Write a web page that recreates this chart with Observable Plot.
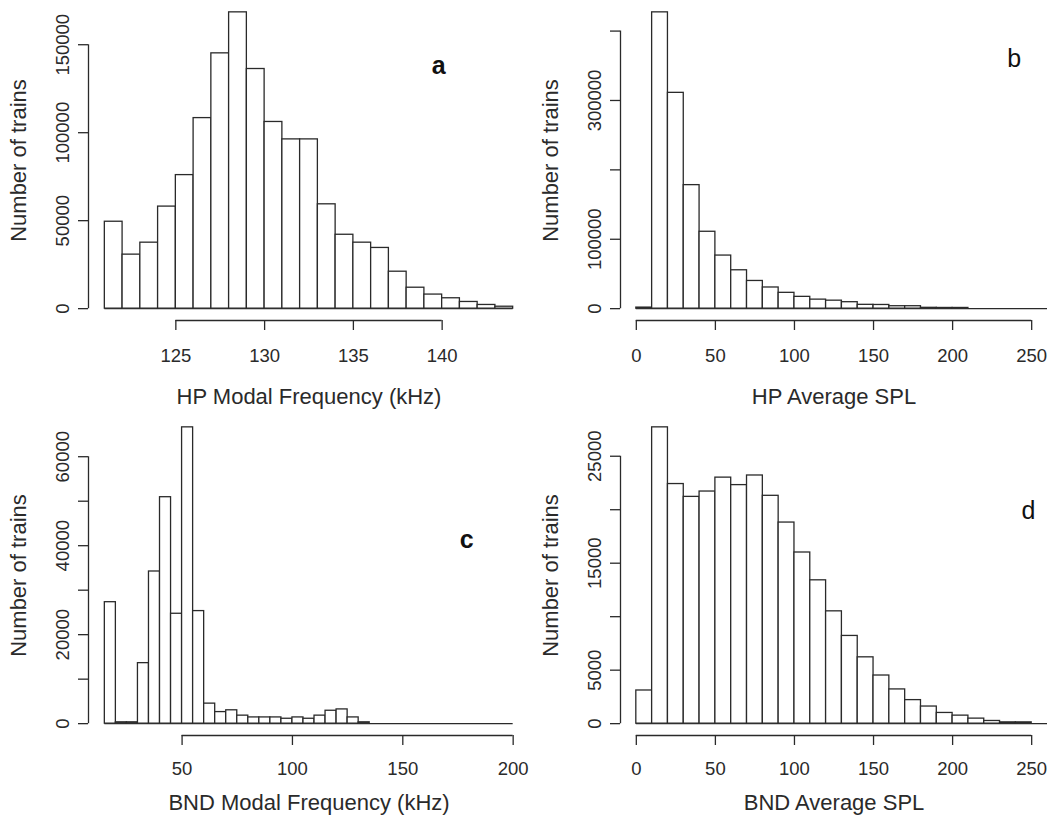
<!DOCTYPE html>
<html>
<head>
<meta charset="utf-8">
<script src="https://cdn.jsdelivr.net/npm/d3@7"></script>
<script src="https://cdn.jsdelivr.net/npm/@observablehq/plot@0.6"></script>
<style>
  html, body { margin: 0; padding: 0; background: #fff; }
  body { width: 1060px; height: 825px; position: relative; overflow: hidden;
         font-family: "Liberation Sans", Arial, sans-serif; }
  .panel { position: absolute; }
</style>
</head>
<body>
<div id="pa" class="panel" style="left:0px;top:0px"></div>
<div id="pb" class="panel" style="left:530px;top:0px"></div>
<div id="pc" class="panel" style="left:0px;top:413px"></div>
<div id="pd" class="panel" style="left:530px;top:413px"></div>
<script>
// ---------- data ----------
const yTitle = "Number of trains";
const panelLetters = ["a", "b", "c", "d"];
const xTitles = ["HP Modal Frequency (kHz)", "HP Average SPL", "BND Modal Frequency (kHz)", "BND Average SPL"];

// a: HP modal frequency, 1 kHz bins from 121 to 144
const hpFreqBreaks = d3.range(121, 145, 1);
const hpFreqCounts = [49400, 30700, 37500, 58000, 75900, 108300, 145100, 168400, 136200, 106100,
                      96200, 96200, 59300, 42000, 37500, 34500, 21000, 11900, 8000, 5900, 3800, 2100, 1100];
const hpFreqXTicks = [125, 130, 135, 140];
const hpFreqYTicks = [0, 50000, 100000, 150000];
const hpFreqYLabels = [0, 50000, 100000, 150000];

// b: HP average SPL, bins of 10 from 0 to 260
const hpSplBreaks = d3.range(0, 270, 10);
const hpSplCounts = [1500, 427000, 311000, 178000, 110800, 76500, 55300, 39900, 30500, 22800,
                     17000, 13000, 11500, 9300, 5500, 5300, 3500, 3500, 1200, 1000, 1000, 0, 0, 0, 0, 0];
const hpSplXTicks = [0, 50, 100, 150, 200, 250];
const hpSplYTicks = [0, 100000, 200000, 300000, 400000];
const hpSplYLabels = [0, 100000, 300000];

// c: BND modal frequency, 5 kHz bins from 15 to 200
const bndFreqBreaks = d3.range(15, 205, 5);
const bndFreqCounts = [27300, 300, 300, 13600, 34200, 50900, 24700, 66600, 25300, 4500,
                       2600, 3000, 1800, 1400, 1400, 1400, 1100, 1400, 1100, 1800,
                       2900, 3200, 1400, 300, 0, 0, 0, 0, 0, 0, 0, 0, 0, 0, 0, 0, 0];
const bndFreqXTicks = [50, 100, 150, 200];
const bndFreqYTicks = [0, 10000, 20000, 30000, 40000, 50000, 60000];
const bndFreqYLabels = [0, 20000, 40000, 60000];

// d: BND average SPL, bins of 10 from 0 to 260
const bndSplBreaks = d3.range(0, 270, 10);
const bndSplCounts = [3100, 27700, 22400, 21200, 21700, 23000, 22300, 23200, 21300, 18800,
                      16000, 13400, 10500, 8200, 6200, 4500, 3200, 2200, 1600, 1000,
                      750, 470, 250, 120, 120, 0];
const bndSplXTicks = [0, 50, 100, 150, 200, 250];
const bndSplYTicks = [0, 5000, 10000, 15000, 20000, 25000];
const bndSplYLabels = [0, 5000, 15000, 25000];

// ---------- drawing ----------
const INK = "#2a2a2a";
const LW = 1.3;
const extend = (lo, hi) => [lo - 0.04 * (hi - lo), hi + 0.04 * (hi - lo)];

function panel(el, o) {
  const bins = o.breaks.slice(0, -1).map((b, i) => ({x1: b, x2: o.breaks[i + 1], n: o.counts[i]}));
  const xdom = extend(o.xlim[0], o.xlim[1]);
  const ydom = extend(0, d3.max(o.counts));
  const chart = Plot.plot({
    width: 530,
    height: 412,
    marginLeft: o.ml, marginRight: o.mr, marginTop: o.mt, marginBottom: 412 - o.mt - 320,
    style: {fontFamily: '"Liberation Sans", Arial, sans-serif', color: INK, background: "#fff"},
    x: {domain: xdom, label: null},
    y: {domain: ydom, label: null},
    marks: [
      Plot.ruleY([0], {x1: o.breaks[0], x2: o.breaks[o.breaks.length - 1], stroke: INK, strokeWidth: LW}),
      Plot.rectY(bins, {x1: "x1", x2: "x2", y: "n", fill: "white", stroke: INK, strokeWidth: LW}),
      Plot.ruleY([ydom[0]], {x1: o.xTicks[0], x2: o.xTicks[o.xTicks.length - 1], stroke: INK, strokeWidth: LW}),
      Plot.ruleX([xdom[0]], {y1: o.yTicks[0], y2: o.yTicks[o.yTicks.length - 1], stroke: INK, strokeWidth: LW}),
      Plot.axisX({ticks: o.xTicks, tickSize: 10, tickPadding: o.xPad, fontSize: 18.5, strokeWidth: LW,
                  tickFormat: d => String(d), label: null, stroke: INK, fill: INK}),
      Plot.axisY({ticks: o.yTicks, tickSize: 10, tickPadding: 10, tickRotate: -90, fontSize: 18.5, strokeWidth: LW,
                  tickFormat: d => o.yLabels.includes(d) ? String(d) : "", label: null, stroke: INK, fill: INK}),
      Plot.text([o.xTitle], {text: d => d, frameAnchor: "bottom", textAnchor: "middle", lineAnchor: "middle",
                             dy: o.titleDy, fontSize: 22, fill: INK}),
      Plot.text([yTitle], {text: d => d, frameAnchor: "left", textAnchor: "middle", lineAnchor: "middle",
                           rotate: -90, dx: -70, fontSize: 22, fill: INK}),
      Plot.text([o.letter], {text: d => d, x: () => o.letterAt[0], y: () => o.letterAt[1],
                             fontSize: 25, fontWeight: o.bold ? "bold" : "normal", fill: "#111"})
    ]
  });
  document.getElementById(el).appendChild(chart);
}

panel("pa", {breaks: hpFreqBreaks, counts: hpFreqCounts, xlim: [121, 144],
  xTicks: hpFreqXTicks, yTicks: hpFreqYTicks, yLabels: hpFreqYLabels,
  xTitle: xTitles[0], letter: panelLetters[0], bold: true, letterAt: [139.8, 138000],
  ml: 88, mr: 1, mt: 0, xPad: 18, titleDy: 76});

panel("pb", {breaks: hpSplBreaks, counts: hpSplCounts, xlim: [0, 250],
  xTicks: hpSplXTicks, yTicks: hpSplYTicks, yLabels: hpSplYLabels,
  xTitle: xTitles[1], letter: panelLetters[1], bold: false, letterAt: [239, 360000],
  ml: 90, mr: 13, mt: 0, xPad: 18, titleDy: 76});

panel("pc", {breaks: bndFreqBreaks, counts: bndFreqCounts, xlim: [15, 200],
  xTicks: bndFreqXTicks, yTicks: bndFreqYTicks, yLabels: bndFreqYLabels,
  xTitle: xTitles[2], letter: panelLetters[2], bold: true, letterAt: [179, 41300],
  ml: 88, mr: 1, mt: 2, xPad: 16, titleDy: 67.5});

panel("pd", {breaks: bndSplBreaks, counts: bndSplCounts, xlim: [0, 250],
  xTicks: bndSplXTicks, yTicks: bndSplYTicks, yLabels: bndSplYLabels,
  xTitle: xTitles[3], letter: panelLetters[3], bold: false, letterAt: [248, 19900],
  ml: 90, mr: 13, mt: 2, xPad: 16, titleDy: 67.5});
</script>
</body>
</html>
